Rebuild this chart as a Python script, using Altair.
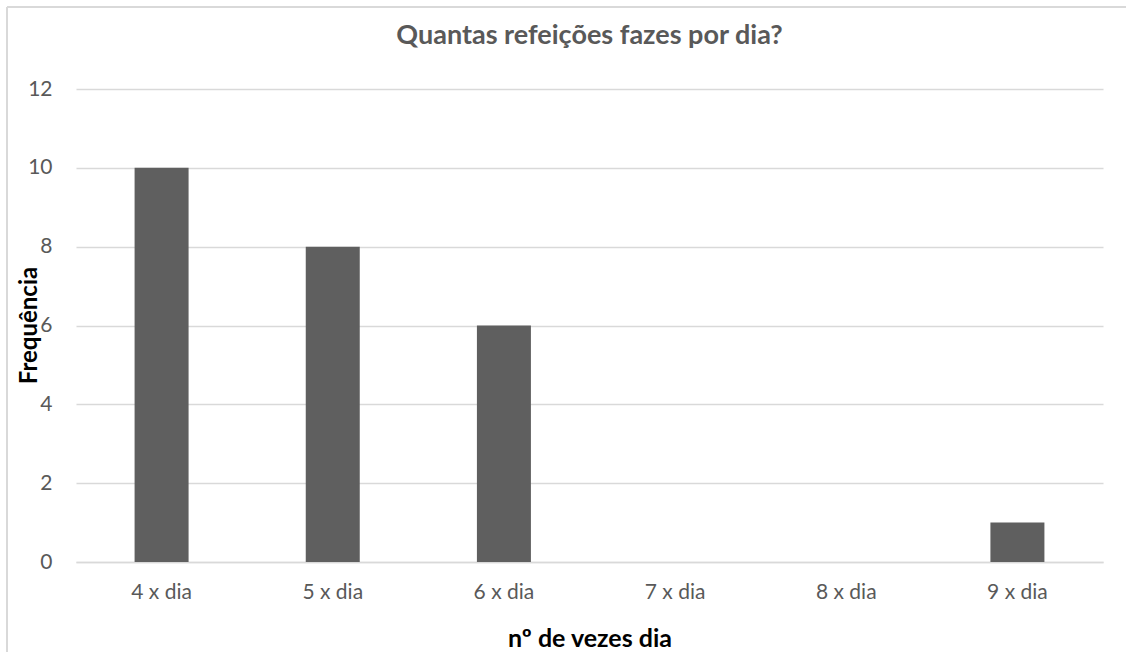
import altair as alt
import pandas as pd

# Meal frequency survey: answers per number of meals a day
categorias = ["4 x dia", "5 x dia", "6 x dia", "7 x dia", "8 x dia", "9 x dia"]
frequencias = [10, 8, 6, 0, 0, 1]
y_ticks = [0, 2, 4, 6, 8, 10, 12]
titulo = "Quantas refeições fazes por dia?"

df = pd.DataFrame({"categoria": categorias, "frequencia": frequencias})

FONT = "Lato"
GRAY_TEXT = "#595959"
GRID = "#d9d9d9"

bars = alt.Chart(df).mark_bar(size=54, color="#5f5f5f").encode(
    x=alt.X(
        "categoria:N",
        sort=categorias,
        scale=alt.Scale(paddingInner=0, paddingOuter=0),
        axis=alt.Axis(
            title="nº de vezes dia",
            labelAngle=0,
            labelPadding=30,
            labelBaseline="middle",
            ticks=False,
            domain=True,
            domainColor=GRID,
            domainWidth=1.3,
            grid=False,
            titleY=76,
            titleBaseline="middle",
            titleFontSize=25,
        ),
    ),
    y=alt.Y(
        "frequencia:Q",
        scale=alt.Scale(domain=[0, 12], nice=False),
        axis=alt.Axis(
            title="Frequência",
            values=y_ticks,
            ticks=False,
            domain=False,
            labelPadding=24,
            gridColor=GRID,
            gridWidth=1.3,
            titleX=-47,
            titleY=236,
            titleAngle=-90,
            titleAlign="center",
            titleBaseline="middle",
            titleFontSize=24,
        ),
    ),
)

# light frame around the chart area
frame_data = alt.Data(values=[{"k": 0}])
frame_top = alt.Chart(frame_data).mark_rule(color=GRID, strokeWidth=2).encode(
    x=alt.value(-69), x2=alt.value(1060), y=alt.value(-82)
)
frame_left = alt.Chart(frame_data).mark_rule(color=GRID, strokeWidth=2).encode(
    x=alt.value(-69), y=alt.value(-82), y2=alt.value(600)
)

# chart heading, centred over the plot area
heading = alt.Chart(frame_data).mark_text(
    font=FONT,
    fontSize=27,
    fontWeight="bold",
    color=GRAY_TEXT,
    align="center",
    baseline="alphabetic",
).encode(
    x=alt.value(513.5),
    y=alt.value(-45),
    text=alt.value(titulo),
)

chart = alt.layer(frame_top, frame_left, bars, heading).properties(
    width=1027,
    height=473,
    autosize=alt.AutoSizeParams(type="none"),
    padding={"left": 76, "top": 89, "right": 23, "bottom": 90},
).configure_view(stroke=None).configure_axis(
    labelFont=FONT,
    labelFontSize=21,
    labelColor=GRAY_TEXT,
    titleFont=FONT,
    titleFontWeight="bold",
    titleColor="#000000",
)

chart.save("out.html", embed_options={"renderer": "svg", "actions": False})
